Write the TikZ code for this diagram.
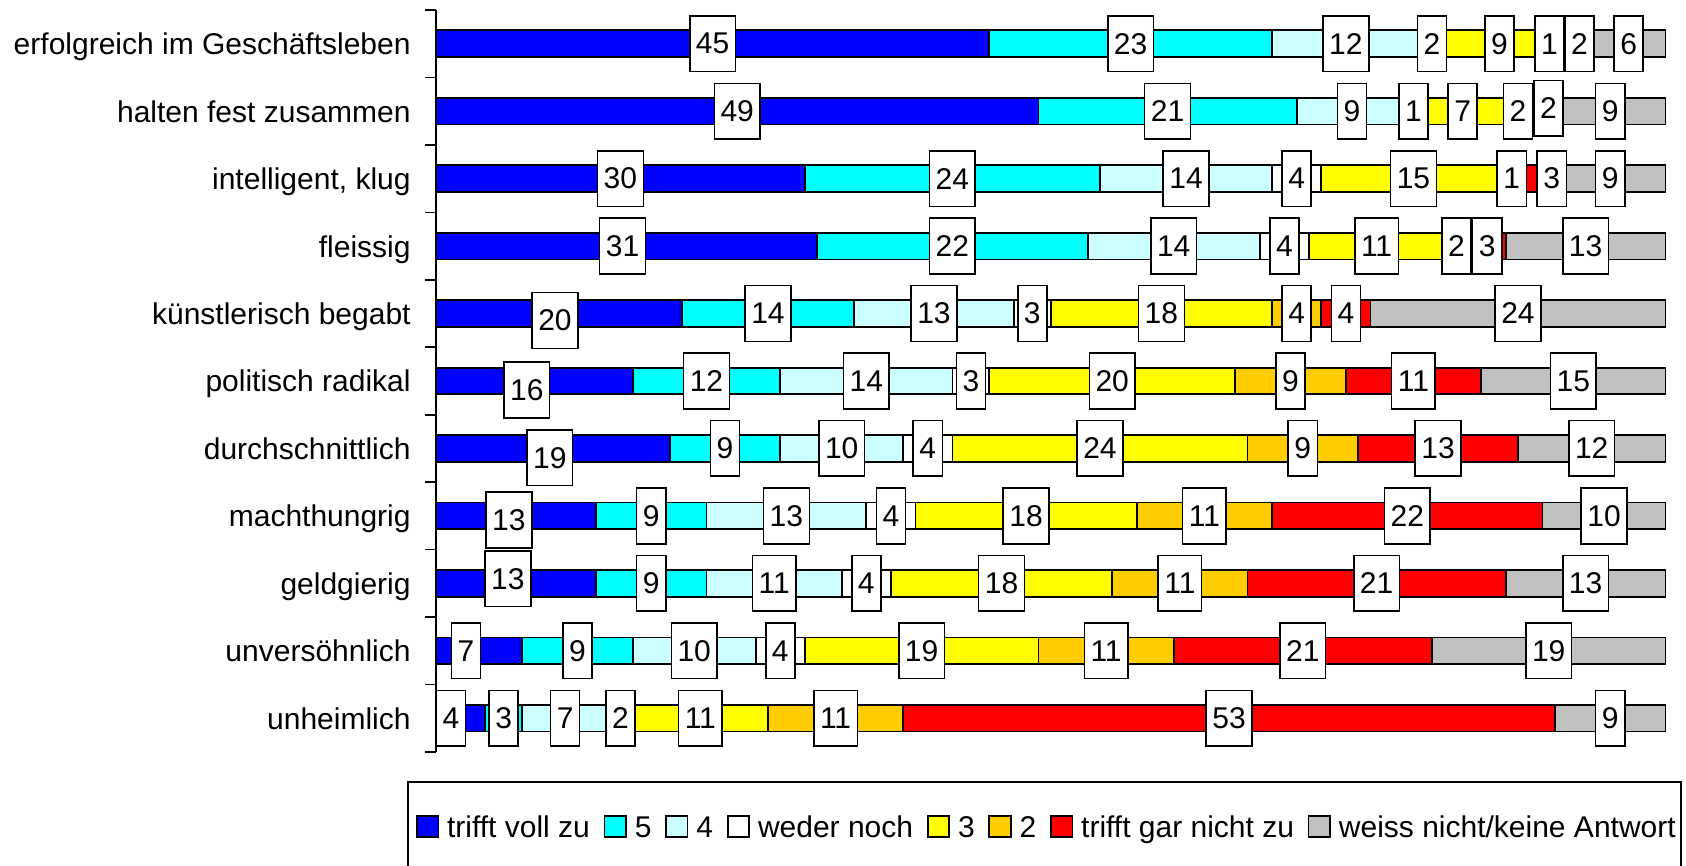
\documentclass[tikz,border=0pt]{standalone}
\usepackage{fontspec}
\setmainfont{Liberation Sans}
\usetikzlibrary{positioning}

\definecolor{seg1}{HTML}{0000FF} % trifft voll zu
\definecolor{seg2}{HTML}{00FFFF} % 5
\definecolor{seg3}{HTML}{CCFFFF} % 4
\definecolor{seg4}{HTML}{FFFFFF} % weder noch
\definecolor{seg5}{HTML}{FFFF00} % 3
\definecolor{seg6}{HTML}{FFCC00} % 2
\definecolor{seg7}{HTML}{FF0000} % trifft gar nicht zu
\definecolor{seg8}{HTML}{C0C0C0} % weiss nicht/keine Antwort

\tikzset{
  segment/.style={draw=black, line width=0.9pt},
  valbox/.style={draw=black, fill=white, line width=0.8pt, inner xsep=3.1pt,
    inner ysep=0pt, minimum height=27.85pt, font=\fontsize{15}{18}\selectfont},
  catlabel/.style={anchor=base east, inner sep=0pt, font=\fontsize{15}{18}\selectfont},
  swatch/.style={draw=black, line width=0.8pt, minimum width=10.75pt,
    minimum height=10.5pt, inner sep=0pt, anchor=south west},
  keytext/.style={anchor=base west, inner sep=0pt, font=\fontsize{15}{18}\selectfont},
}

\begin{document}
\begin{tikzpicture}[x=0.5pt, y=-0.5pt]
\useasboundingbox (0,0) rectangle (1686,866);
\newcommand{\axisx}{436};   % left end of the bars
\newcommand{\pct}{12.295};  % length of one percent
\newcommand{\rowh}{67.45};  % row pitch
\newcommand{\barh}{13.35};  % half bar height

% category axis
\coordinate (axtop) at (\axisx, 10);
\coordinate (axbot) at (\axisx, 752);
\draw[line width=0.8pt] (axtop) -- (axbot);
\foreach \k in {0,...,11}
  \draw[line width=0.8pt] (\axisx-11, 10+\k*\rowh) -- (\axisx, 10+\k*\rowh);

% stacked bars: value/xshift/yshift of each box
\foreach \lab/\vals [count=\r] in {
  {erfolgreich im Geschäftsleben}/{45/0/0,23/0/0,12/0/0,2/0/0,9/0/0,1/-11.6/0,2/0/0,6/0/0},
  {halten fest zusammen}/{49/0/0,21/0/0,9/0/0,1/0/0,7/0/0,2/0/0,2/6/-3,9/0/0},
  {intelligent, klug}/{30/0/0,24/0/0,14/0/0,4/0/0,15/0/0,1/0/0,3/15.4/0,9/0/0},
  {fleissig}/{31/-4/0,22/0/0,14/0/0,4/0/0,11/0/0,2/0/0,3/0/0,13/0/0},
  {künstlerisch begabt}/{20/-4/7,14/0/0,13/0/0,3/0/0,18/0/0,4/0/0,4/0/0,24/0/0},
  {politisch radikal}/{16/-7.6/9,12/0/0,14/0/0,3/0/0,20/0/0,9/0/0,11/0/0,15/0/0},
  {durchschnittlich}/{19/-3/9.4,9/0/0,10/0/0,4/0/0,24/0/0,9/0/0,13/0/0,12/0/0},
  {machthungrig}/{13/-7/4,9/0/0,13/0/0,4/0/0,18/0/0,11/0/0,22/0/0,10/0/0},
  {geldgierig}/{13/-8/-4.5,9/0/0,11/0/0,4/0/0,18/0/0,11/0/0,21/0/0,13/0/0},
  {unversöhnlich}/{7/-13/0,9/0/0,10/0/0,4/0/0,19/0/0,11/0/0,21/0/0,19/0/0},
  {unheimlich}/{4/-9.7/0,3/0/0,7/0/0,2/0/0,11/0/0,11/0/0,53/0/0,9/0/0}}{
  \pgfmathsetmacro{\yc}{10+(\r-0.5)*\rowh}
  \node[catlabel] (cat\r) at (411, \yc+11) {\lab};
  \gdef\runsum{0}
  \foreach \v/\dx/\dy [count=\s] in \vals {
    \pgfmathsetmacro{\xa}{\axisx+\runsum*\pct}
    \pgfmathsetmacro{\xb}{\axisx+(\runsum+\v)*\pct}
    \draw[segment, fill=seg\s] (\xa, \yc-\barh) rectangle (\xb, \yc+\barh);
    \coordinate (mid\r-\s) at ({(\xa+\xb)/2+(\dx)}, {\yc+(\dy)});
    \pgfmathsetmacro{\tmp}{\runsum+\v}
    \xdef\runsum{\tmp}
  }
  \foreach \v/\dx/\dy [count=\s] in \vals
    \node[valbox] (val\r-\s) at (mid\r-\s) {\v};
}

% legend
\draw[line width=0.8pt] (408,868) -- (408,782) -- (1681,782) -- (1681,868);
\foreach \t [count=\i] in {trifft voll zu, 5, 4, weder noch, 3, 2,
    trifft gar nicht zu, {weiss nicht/keine Antwort}} {
  \ifnum\i=1
    \node[swatch, fill=seg1] (key1) at (416,837.5) {};
  \else
    \pgfmathtruncatemacro{\j}{\i-1}
    \node[swatch, fill=seg\i] (key\i) at ([xshift=6.7pt]txt\j.base east) {};
  \fi
  \node[keytext] (txt\i) at ([xshift=3.8pt]key\i.south east) {\t};
}
\end{tikzpicture}
\end{document}
